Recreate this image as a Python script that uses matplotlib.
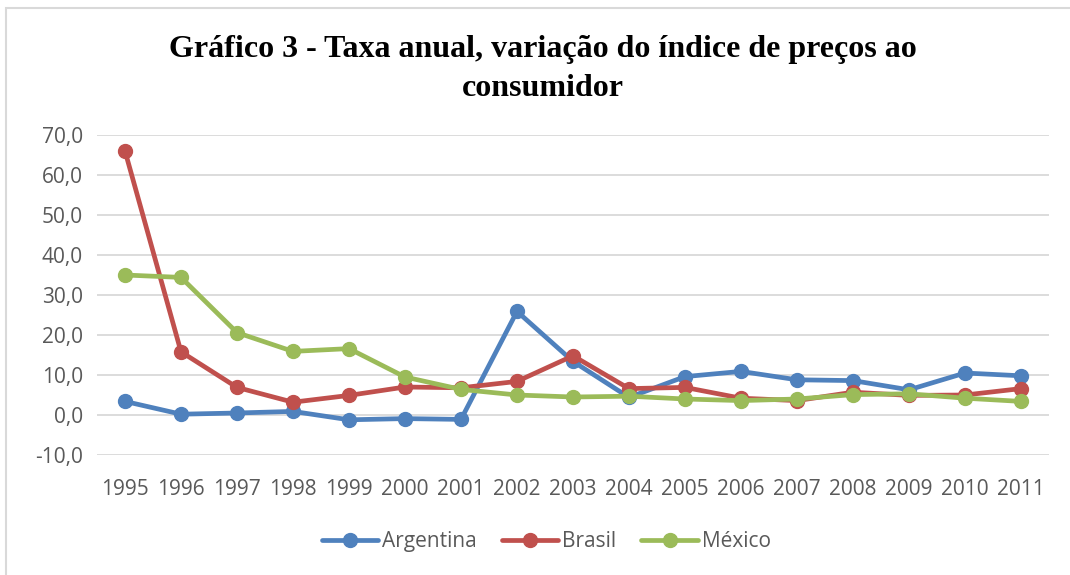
import matplotlib
matplotlib.use('Agg')
import matplotlib.pyplot as plt
from matplotlib.patches import Rectangle
from matplotlib.ticker import FuncFormatter

# Consumer price index, annual change (%)
anos = ['1995', '1996', '1997', '1998', '1999', '2000', '2001', '2002', '2003',
        '2004', '2005', '2006', '2007', '2008', '2009', '2010', '2011']
argentina = [3.4, 0.2, 0.5, 0.9, -1.2, -0.9, -1.1, 25.9, 13.4,
             4.4, 9.6, 10.9, 8.8, 8.6, 6.3, 10.5, 9.8]
brasil = [66.0, 15.8, 6.9, 3.2, 4.9, 7.0, 6.8, 8.4, 14.8,
          6.6, 6.9, 4.2, 3.6, 5.7, 4.9, 5.0, 6.6]
mexico = [35.0, 34.4, 20.6, 15.9, 16.6, 9.5, 6.4, 5.0, 4.5,
          4.7, 4.0, 3.6, 4.0, 5.1, 5.3, 4.2, 3.4]

paises = ['Argentina', 'Brasil', 'México']
cores = ['#4F81BD', '#C0504D', '#9BBB59']

plt.rcParams['font.family'] = ['Open Sans', 'DejaVu Sans']

fig = plt.figure(figsize=(10.7, 5.75), dpi=100)
ax = fig.add_axes([97 / 1070, 120 / 575, 952 / 1070, 320 / 575])

x = range(len(anos))
for nome, serie, cor in zip(paises, [argentina, brasil, mexico], cores):
    ax.plot(x, serie, color=cor, linewidth=3.4, marker='o', markersize=10,
            label=nome, solid_capstyle='round', solid_joinstyle='round')

ax.set_xlim(-0.5, len(anos) - 0.5)
ax.set_ylim(-10, 70)
ax.set_yticks(range(-10, 71, 10))
ax.yaxis.set_major_formatter(FuncFormatter(lambda v, p: f'{v:.1f}'.replace('.', ',')))
ax.set_xticks(list(x))
ax.set_xticklabels(anos)
ax.grid(axis='y', color='#d9d9d9', linewidth=1.3)
ax.set_axisbelow(True)
for s in ax.spines.values():
    s.set_visible(False)
ax.tick_params(length=0, labelsize=15, labelcolor='#595959')
ax.tick_params(axis='x', pad=17)
ax.tick_params(axis='y', pad=10)

fig.text(0.507, 1 - 69 / 575, 'Gráfico 3 - Taxa anual, variação do índice de preços ao\nconsumidor',
         ha='center', va='center', fontsize=23, fontweight='bold',
         family='Liberation Serif', linespacing=1.42)

ax.legend(loc='center', bbox_to_anchor=(0.472, -0.27), ncol=3, frameon=False,
          fontsize=15, labelcolor='#595959', handlelength=2.7,
          columnspacing=1.2, handletextpad=0.2)

# chart border (only top/left edges visible in the reference)
fig.patches.append(Rectangle((6 / 1070, -0.1), 1.2, (575 - 8) / 575 + 0.1,
                             transform=fig.transFigure, fill=False,
                             edgecolor='#d9d9d9', linewidth=1.5))

fig.savefig('out.png', dpi=100)
